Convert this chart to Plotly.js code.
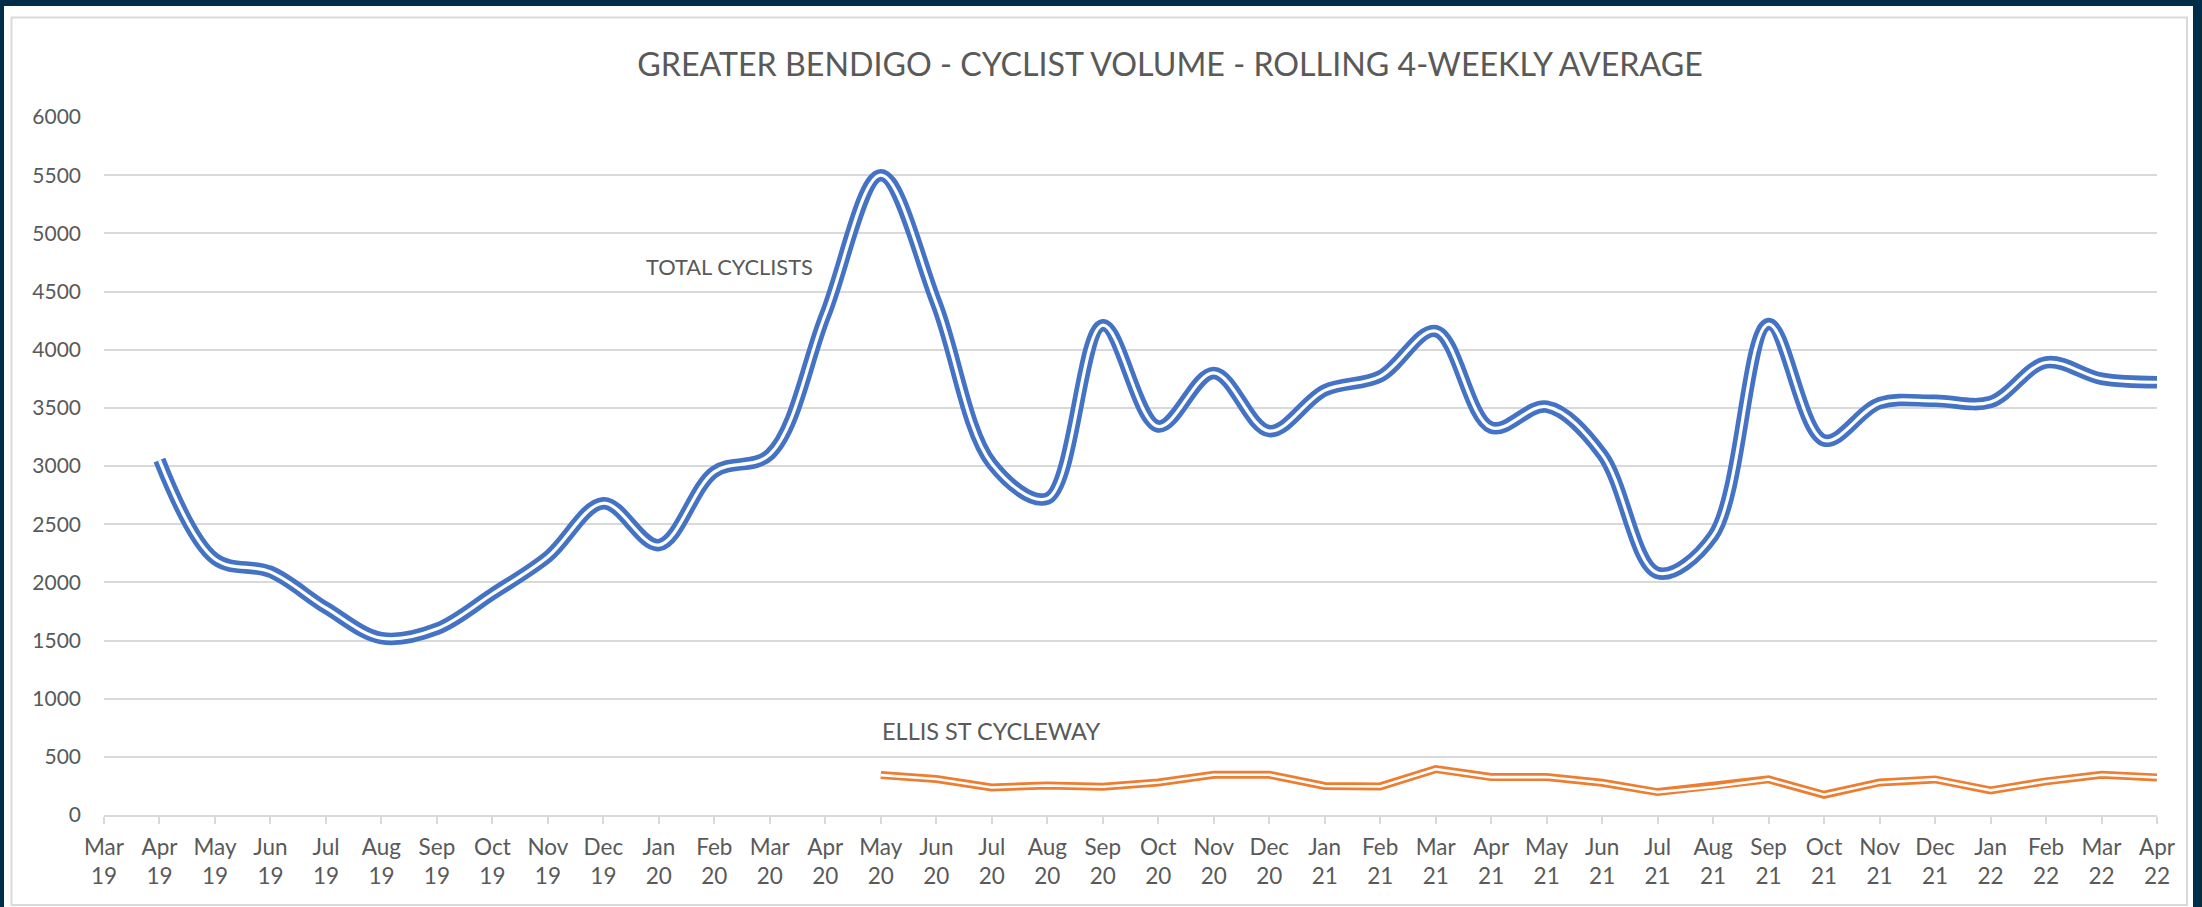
<!DOCTYPE html>
<html>
<head>
<meta charset="utf-8">
<script src="https://cdn.plot.ly/plotly-3.0.1.min.js"></script>
<style>
  html, body { margin: 0; padding: 0; background: #002E48; }
  #chart { width: 2202px; height: 907px; }
</style>
</head>
<body>
<div id="chart"></div>
<script>
// ---- Data ----
const months = [
  'Mar 19','Apr 19','May 19','Jun 19','Jul 19','Aug 19','Sep 19','Oct 19','Nov 19','Dec 19',
  'Jan 20','Feb 20','Mar 20','Apr 20','May 20','Jun 20','Jul 20','Aug 20','Sep 20','Oct 20',
  'Nov 20','Dec 20','Jan 21','Feb 21','Mar 21','Apr 21','May 21','Jun 21','Jul 21','Aug 21',
  'Sep 21','Oct 21','Nov 21','Dec 21','Jan 22','Feb 22','Mar 22','Apr 22'
];
const totalCyclists = [
  null, 3050, 2200, 2090, 1780, 1520, 1600, 1900, 2220, 2680,
  2320, 2950, 3100, 4300, 5500, 4400, 3020, 2720, 4210, 3340,
  3800, 3300, 3650, 3770, 4160, 3330, 3510, 3100, 2080, 2400,
  4220, 3220, 3540, 3560, 3550, 3890, 3750, 3720
];
const ellisStCycleway = [
  null, null, null, null, null, null, null, null, null, null,
  null, null, null, null, 343, 309, 237, 254, 243, 280,
  346, 346, 249, 246, 394, 326, 326, 277, 197, 243,
  306, 174, 280, 306, 212, 289, 346, 323
];
const seriesNames = ['TOTAL CYCLISTS', 'ELLIS ST CYCLEWAY'];
const chartTitle = 'GREATER BENDIGO - CYCLIST VOLUME - ROLLING 4-WEEKLY AVERAGE';

// ---- Layout geometry (pixels) ----
const W = 2202, H = 907;
const M = { l: 104, r: 45, t: 117, b: 92 };
const plotW = W - M.l - M.r, plotH = H - M.t - M.b;
const px = x => (x - M.l) / plotW;
const py = y => (H - M.b - y) / plotH;

const BLUE = '#4472C4', ORANGE = '#ED7D31', GREY_TXT = '#595959', GRID = '#D9D9D9';
const FONT = 'Lato, "Open Sans", sans-serif';
const idx = months.map((_, i) => i);

const traces = [
  { x: idx, y: totalCyclists, mode: 'lines', line: { color: BLUE, width: 12.5, shape: 'spline', smoothing: 1 }, hoverinfo: 'skip', name: seriesNames[0] },
  { x: idx, y: totalCyclists, mode: 'lines', line: { color: '#FFFFFF', width: 3.2, shape: 'spline', smoothing: 1 }, hoverinfo: 'skip' },
  { x: idx, y: ellisStCycleway, mode: 'lines', line: { color: ORANGE, width: 8 }, hoverinfo: 'skip', name: seriesNames[1] },
  { x: idx, y: ellisStCycleway, mode: 'lines', line: { color: '#FFFFFF', width: 2.6 }, hoverinfo: 'skip' }
];

const layout = {
  width: W, height: H,
  margin: M,
  paper_bgcolor: '#002E48',
  plot_bgcolor: 'rgba(0,0,0,0)',
  showlegend: false,
  hovermode: false,
  font: { family: FONT, color: GREY_TXT, size: 21 },
  title: {
    text: chartTitle,
    font: { family: FONT, size: 32.2, color: GREY_TXT },
    xref: 'paper', x: px(1170), xanchor: 'center',
    yref: 'container', y: 1 - 65 / H, yanchor: 'middle'
  },
  xaxis: {
    type: 'linear',
    range: [0, months.length - 1],
    tickmode: 'array',
    tickvals: idx,
    ticktext: months.map(m => m.replace(' ', '<br>')),
    ticks: 'outside', ticklen: 7, tickwidth: 2, tickcolor: GRID,
    showline: true, linecolor: GRID, linewidth: 2,
    showgrid: false, zeroline: false,
    ticklabelstandoff: 4,
    tickfont: { family: FONT, size: 22.5, color: GREY_TXT },
    fixedrange: true
  },
  yaxis: {
    range: [0, 6000], dtick: 500,
    showgrid: true, gridcolor: GRID, gridwidth: 2,
    zeroline: false, showline: false, ticks: '',
    ticklabelstandoff: 22,
    tickfont: { family: FONT, size: 21, color: GREY_TXT },
    fixedrange: true
  },
  shapes: [
    { type: 'rect', xref: 'paper', yref: 'paper', layer: 'below',
      x0: px(4), x1: px(2193), y0: py(H + 5), y1: py(6),
      fillcolor: '#FFFFFF', line: { width: 0 } },
    { type: 'rect', xref: 'paper', yref: 'paper', layer: 'below',
      x0: px(11.5), x1: px(2187), y0: py(905), y1: py(17.5),
      fillcolor: 'rgba(0,0,0,0)', line: { color: GRID, width: 2 } }
  ],
  annotations: [
    { text: seriesNames[0], xref: 'paper', yref: 'paper', x: px(644), y: py(266),
      xanchor: 'left', yanchor: 'middle', showarrow: false,
      font: { family: FONT, size: 21.8, color: GREY_TXT } },
    { text: seriesNames[1], xref: 'paper', yref: 'paper', x: px(880), y: py(731),
      xanchor: 'left', yanchor: 'middle', showarrow: false,
      font: { family: FONT, size: 23.5, color: GREY_TXT } }
  ]
};

Plotly.newPlot('chart', traces, layout, { displayModeBar: false, staticPlot: true });
</script>
</body>
</html>
